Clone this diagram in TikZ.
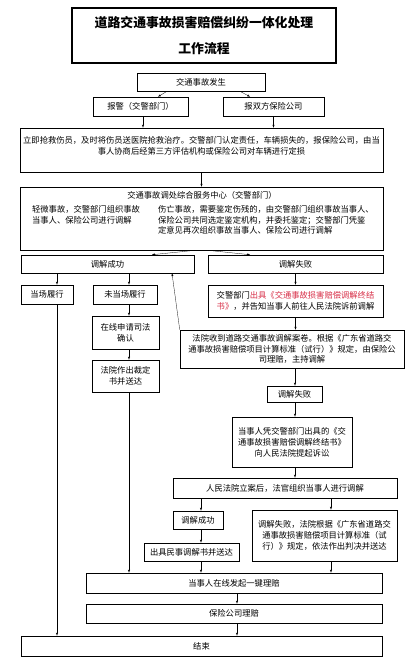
\documentclass[tikz,border=0pt]{standalone}
\usepackage{fontspec}
\setmainfont{Noto Sans CJK SC}
\usepackage{xcolor}
\usetikzlibrary{calc}
\definecolor{notered}{RGB}{215,45,70}
\tikzset{
  box/.style={draw, line width=0.8pt, inner sep=0pt, align=center, font=\fontsize{11.8}{15.5}\selectfont},
  txt/.style={inner sep=0pt, align=center, font=\fontsize{11.8}{15.5}\selectfont},
  sz/.style 2 args={minimum width=#1*0.05cm, minimum height=#2*0.05cm},
}
\begin{document}
\begin{tikzpicture}[x=0.05cm, y=-0.05cm, >=latex]
    \useasboundingbox (0,0) rectangle (409,660);

    % title
    \node[box, sz={264}{55}, line width=1.6pt, font=\bfseries\fontsize{18.3}{37}\selectfont] (title) at (204,35.5) {道路交通事故损害赔偿纠纷一体化处理\\工作流程};

    % accident and report
    \node[box, sz={128}{18}] (occur) at (201,82) {交通事故发生};
    \node[box, sz={95}{19}] (police) at (140.5,106.5) {报警（交警部门）};
    \node[box, sz={101}{19}] (insur) at (273.5,106.5) {报双方保险公司};

    \node[box, sz={363}{44}] (rescue) at (201.5,150) {};
    \node[txt] (rescuetxt) at (201.5,146) {立即抢救伤员，及时将伤员送医院抢救治疗。交警部门认定责任，车辆损失的，报保险公司，由当\\事人协商后经第三方评估机构或保险公司对车辆进行定损};

    % service centre
    \node[box, sz={363}{63}] (service) at (201.5,218.5) {};
    \node[txt] (servicehead) at (202,195.5) {交通事故调处综合服务中心（交警部门）};
    \node[txt, align=left, anchor=north west] (minor) at (32,205) {轻微事故，交警部门组织事故\\当事人、保险公司进行调解};
    \node[txt, align=left, anchor=north west] (injury) at (158,205) {伤亡事故，需要鉴定伤残的，由交警部门组织事故当事人、\\保险公司共同选定鉴定机构，并委托鉴定；交警部门凭鉴\\定意见再次组织事故当事人、保险公司进行调解};

    % first mediation
    \node[box, sz={173}{18}] (ok1) at (107.5,264) {调解成功};
    \node[box, sz={175}{18}] (fail1) at (295.5,264) {调解失败};
    \node[box, sz={52}{19}] (ontime) at (47,294.5) {当场履行};
    \node[box, sz={64}{19}] (notime) at (125,294.5) {未当场履行};
    \node[box, sz={67}{33}] (apply) at (125.5,332.5) {在线申请司法\\确认};
    \node[box, sz={67}{32}] (ruling) at (125.5,376) {法院作出裁定\\书并送达};

    % court before filing
    \node[box, sz={175}{32}] (issue) at (295.5,301) {交警部门\textcolor{notered}{出具《交通事故损害赔偿调解终结}\\\textcolor{notered}{书》}，并告知当事人前往人民法院诉前调解};
    \node[box, sz={224}{38}] (court) at (292,349) {法院收到道路交通事故调解案卷。根据《广东省道路交\\通事故损害赔偿项目计算标准（试行）》规定，由保险公\\司理赔，主持调解};
    \node[box, sz={55}{16}] (fail2) at (294.5,394) {调解失败};
    \node[box, sz={120}{50}] (sue) at (292,442) {当事人凭交警部门出具的《交\\通事故损害赔偿调解终结书》\\向人民法院提起诉讼};

    % lawsuit
    \node[box, sz={224}{20}] (file) at (285,488) {人民法院立案后，法官组织当事人进行调解};
    \node[box, sz={50}{18}] (ok2) at (198,520) {调解成功};
    \node[box, sz={145}{51}] (judge) at (324.5,535.5) {调解失败，法院根据《广东省道路交\\通事故损害赔偿项目计算标准（试\\行）》规定，依法作出判决并送达};
    \node[box, sz={95}{18}] (mediate) at (191.5,552) {出具民事调解书并送达};

    % claim
    \node[box, sz={296}{20}] (claim) at (234,583) {当事人在线发起一键理赔};
    \node[box, sz={296}{19}] (pay) at (234,613.5) {保险公司理赔};
    \node[box, sz={361}{20}] (finish) at (201.5,646) {结束};

    % arrows
    \draw[->] ($(occur.south)+(-34,0)$) -- ($(police.north)+(17.5,0)$);
    \draw[->] ($(occur.south)+(39,0)$) -- ($(insur.north)+(-23.5,0)$);
    \draw[->] ($(police.south)+(2.5,0)$) coordinate (a1) -- (a1 |- rescue.north);
    \draw[->] (insur.south) -- (insur.south |- rescue.north);
    \draw[->] (rescue.south) -- (service.north);
    \draw[->] ($(service.south)+(-6,0)$) -- ($(ok1.north)+(44.5,0)$);
    \draw[->] ($(service.south)+(6,0)$) -- ($(fail1.north)+(-45.5,0)$);

    \draw[->] ($(ok1.south)+(-50.5,0)$) coordinate (a2) -- (a2 |- ontime.north);
    \draw[->] ($(ok1.south)+(21.5,0)$) coordinate (a3) -- (a3 |- notime.north);
    \draw[->] (a3 |- notime.south) -- (a3 |- apply.north);
    \draw[->] (a3 |- apply.south) -- (a3 |- ruling.north);
    \draw[->] (a3 |- ruling.south) -- (a3 |- claim.north);
    \draw[->] (a2 |- ontime.south) -- (a2 |- finish.north);

    \draw[->] (fail1.south) -- (issue.north);
    \draw[->] (issue.south) -- (issue.south |- court.north);
    \draw[->] (court.north west) -- ($(ok1.south)+(64.5,0)$);
    \draw[->] ($(court.south)+(3,0)$) coordinate (a4) -- (a4 |- fail2.north);
    \draw[->] (a4 |- fail2.south) -- (a4 |- sue.north);
    \draw[->] (a4 |- sue.south) -- (a4 |- file.north);

    \draw[->] ($(file.south)+(-84,0)$) coordinate (a5) -- (a5 |- ok2.north);
    \draw[->] ($(file.south)+(46,0)$) coordinate (a6) -- (a6 |- judge.north);
    \draw[->] (a5 |- ok2.south) -- (a5 |- mediate.north);
    \draw[->] (a5 |- mediate.south) -- (a5 |- claim.north);
    \draw[->] (a6 |- judge.south) -- (a6 |- claim.north);
    \draw[->] ($(claim.south)+(3,0)$) coordinate (a7) -- (a7 |- pay.north);
    \draw[->] (a7 |- pay.south) -- (a7 |- finish.north);
\end{tikzpicture}
\end{document}
